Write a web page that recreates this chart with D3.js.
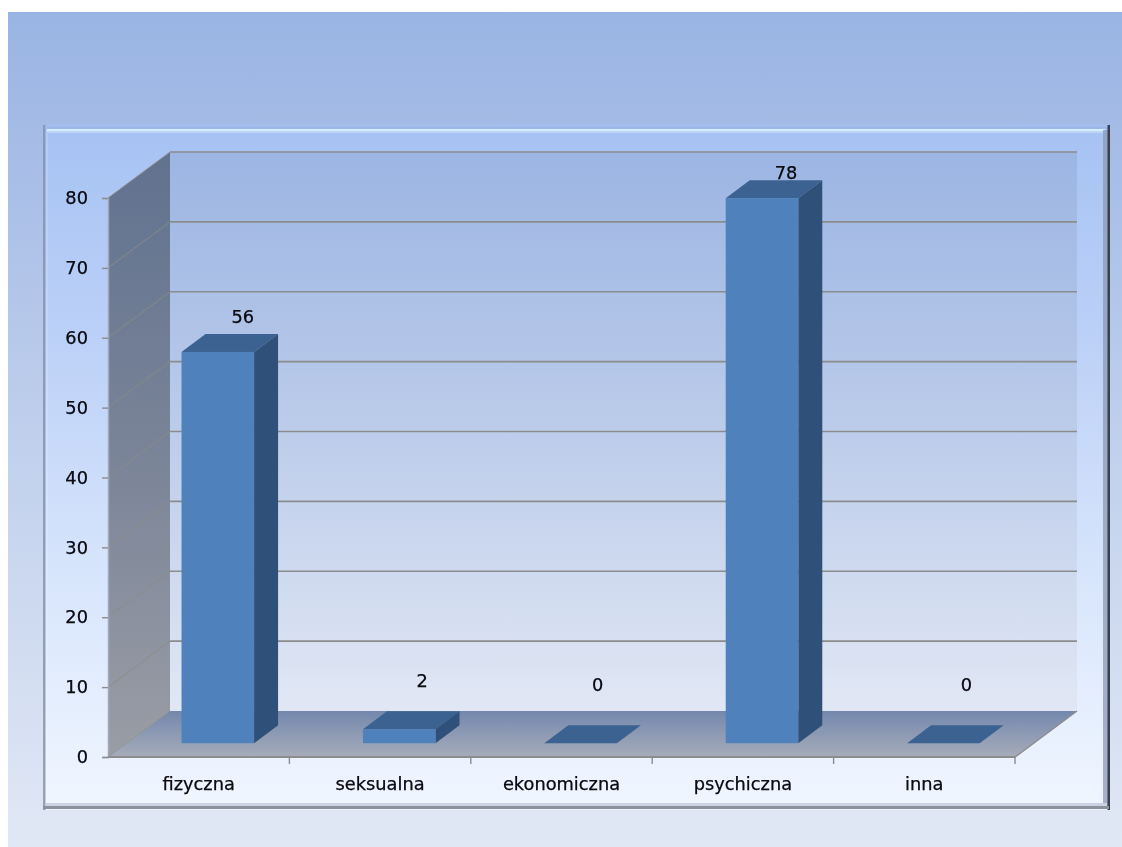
<!DOCTYPE html>
<html><head><meta charset="utf-8">
<script src="https://cdnjs.cloudflare.com/ajax/libs/d3/7.8.5/d3.min.js"></script>
<style>
html,body{margin:0;padding:0;background:#fff;overflow:hidden}
svg{display:block}
text{font-family:"DejaVu Sans",sans-serif;font-size:17.8px;fill:#08080c;stroke:#08080c;stroke-width:.25px}
</style></head><body>
<svg id="c" width="1122" height="847"></svg>
<script>
const categories = ["fizyczna","seksualna","ekonomiczna","psychiczna","inna"];
const values = [56,2,0,78,0];
const yTicks = [0,10,20,30,40,50,60,70,80];

const W=1122,H=847;
const svg=d3.select("#c");
const defs=svg.append("defs");
function grad(id,stops,x2=0,y2=1){
  const g=defs.append("linearGradient").attr("id",id).attr("x1",0).attr("y1",0).attr("x2",x2).attr("y2",y2);
  stops.forEach(([o,c])=>g.append("stop").attr("offset",o).attr("stop-color",c));
}
grad("bgG",[[0,"#99B4E3"],[.12,"#A3BAE6"],[.5,"#BFCFEC"],[1,"#E1E8F5"]]);
grad("frameG",[[0,"#A6C2F3"],[.3,"#BBD0F7"],[.6,"#D3E2FB"],[1,"#F0F6FF"]]);
grad("wallG",[[0,"#9CB5E3"],[.5,"#BCCCEA"],[1,"#E1E7F4"]]);
grad("leftG",[[0,"#61728F"],[.5,"#7A8498"],[1,"#9A9DA5"]]);
grad("floorG",[[0,"#7488AD"],[1,"#A6ACB9"]]);
defs.append("filter").attr("id","soft").attr("x","-10%").attr("y","-10%").attr("width","120%").attr("height","120%")
  .append("feGaussianBlur").attr("stdDeviation",0.4);

const x0=108,x1=1015,yB=757,yT=198,dX=62,dY=-46;
const x=d3.scaleBand().domain(categories).range([x0,x1]);
const y=d3.scaleLinear().domain([0,80]).range([yB,yT]);
const poly=d3.line();

// slide background and chart frame
svg.append("rect").attr("x",8).attr("y",12).attr("width",W-8).attr("height",H-12).attr("fill","url(#bgG)");
const F={l:43,t:125,r:1110,b:810};
svg.append("rect").attr("x",F.l).attr("y",F.t).attr("width",F.r-F.l).attr("height",F.b-F.t).attr("fill","url(#frameG)");
// bevel
svg.append("rect").attr("x",F.l).attr("y",F.t).attr("width",2.5).attr("height",F.b-F.t).attr("fill","#8391AE").attr("opacity",.85);
svg.append("rect").attr("x",F.l+2.5).attr("y",F.t+3).attr("width",2.5).attr("height",F.b-F.t-5).attr("fill","#fff").attr("opacity",.15);
svg.append("rect").attr("x",F.l+2).attr("y",F.t+1).attr("width",F.r-F.l-3).attr("height",3).attr("fill","#9DB9EA");
svg.append("rect").attr("x",F.l+4).attr("y",F.t+4).attr("width",F.r-F.l-9).attr("height",2.5).attr("fill","#D6ECFF");
svg.append("rect").attr("x",F.l+5).attr("y",F.t+6.5).attr("width",F.r-F.l-10).attr("height",1.5).attr("fill","#BCD6FA");
svg.append("rect").attr("x",F.r-7).attr("y",F.t+5).attr("width",5).attr("height",F.b-F.t-7).attr("fill","#8C99B4").attr("opacity",.75);
svg.append("rect").attr("x",F.r-2.5).attr("y",F.t).attr("width",2.5).attr("height",F.b-F.t).attr("fill","#39404F");
svg.append("rect").attr("x",F.l+3).attr("y",F.b-7).attr("width",F.r-F.l-6).attr("height",3).attr("fill","#CBD3E2");
svg.append("rect").attr("x",F.l).attr("y",F.b-4).attr("width",F.r-F.l-1).attr("height",3).attr("fill","#8B919D");

// 3D walls and floor
const bx0=x0+dX,bx1=x1+dX;
svg.append("rect").attr("x",bx0).attr("y",y(80)+dY).attr("width",bx1-bx0).attr("height",y(0)-y(80)).attr("fill","url(#wallG)");
svg.append("path").attr("d",poly([[x0,y(0)],[x0,y(80)],[bx0,y(80)+dY],[bx0,y(0)+dY]])+"Z").attr("fill","url(#leftG)");
svg.append("path").attr("d",poly([[x0,y(0)],[bx0,y(0)+dY],[bx1,y(0)+dY],[x1,y(0)]])+"Z").attr("fill","url(#floorG)");

// gridlines
const ticksUp=yTicks.filter(t=>t>0);
svg.append("g").selectAll("line").data(ticksUp).join("line")
  .attr("x1",bx0).attr("x2",bx1).attr("y1",d=>y(d)+dY).attr("y2",d=>y(d)+dY)
  .attr("stroke","#8C8C8C").attr("stroke-width",1.6);
svg.append("g").selectAll("line").data(yTicks).join("line")
  .attr("x1",x0).attr("x2",bx0).attr("y1",d=>y(d)).attr("y2",d=>y(d)+dY)
  .attr("stroke","#8F8B82").attr("stroke-width",1).attr("opacity",.8);
svg.append("line").attr("x1",x1).attr("y1",y(0)).attr("x2",bx1).attr("y2",y(0)+dY).attr("stroke","#8C8C8C").attr("stroke-width",1.4);

// axes
const axL=svg.append("g").attr("transform",`translate(${x0},0)`)
  .call(d3.axisLeft(y).tickValues(yTicks).tickSize(6).tickPadding(14));
axL.select(".domain").attr("stroke","#A0A8BC").attr("stroke-width",1.5);
axL.selectAll(".tick line").attr("stroke","#8C8C8C").attr("stroke-width",1.4);
const axB=svg.append("g").attr("transform",`translate(0,${yB})`)
  .call(d3.axisBottom(x).tickSize(0).tickPadding(20));
axB.select(".domain").remove();
svg.append("line").attr("x1",x0).attr("x2",x1).attr("y1",yB).attr("y2",yB).attr("stroke","#8C8C8C").attr("stroke-width",1.8);
svg.append("g").selectAll("line").data(categories).join("line")
  .attr("x1",d=>x(d)+x.bandwidth()).attr("x2",d=>x(d)+x.bandwidth())
  .attr("y1",yB).attr("y2",yB+7).attr("stroke","#8C8C8C").attr("stroke-width",1.4);
svg.selectAll(".tick text").attr("font-size",null).attr("font-family",null).attr("filter","url(#soft)");

// 3D bars
const bw=x.bandwidth()*0.4, floorShift=0.3;
const barX=d=>x(d)+x.bandwidth()/2-bw/2+dX*floorShift+0.5;
const baseY=y(0)+dY*floorShift;
const barH=v=>y(0)-y(v);
const depthX=24,depthY=-18;
const bars=svg.append("g").selectAll("g").data(categories.map((c,i)=>({c,v:values[i]}))).join("g");
bars.append("path").attr("fill","#3B6290").attr("d",d=>{const l=barX(d.c),t=baseY-barH(d.v);
  return poly([[l,t],[l+depthX,t+depthY],[l+bw+depthX,t+depthY],[l+bw,t]])+"Z";});
bars.append("path").attr("fill","#2F5078").attr("d",d=>{const r=barX(d.c)+bw,t=baseY-barH(d.v);
  return poly([[r,t],[r+depthX,t+depthY],[r+depthX,baseY+depthY],[r,baseY]])+"Z";});
bars.append("rect").attr("fill","#4F81BD").attr("x",d=>barX(d.c)).attr("y",d=>baseY-barH(d.v)).attr("width",bw).attr("height",d=>barH(d.v));

// data labels (hand-placed in the original, so each carries its own nudge)
const nudgeX=[25,23,17,24,23], nudgeY=[-29,-42,-52,-19,-52];
svg.append("g").selectAll("text").data(values).join("text")
  .attr("text-anchor","middle").attr("filter","url(#soft)")
  .attr("x",(v,i)=>barX(categories[i])+bw/2+nudgeX[i])
  .attr("y",(v,i)=>baseY-barH(v)+nudgeY[i])
  .text(v=>v);
</script>
</body></html>
